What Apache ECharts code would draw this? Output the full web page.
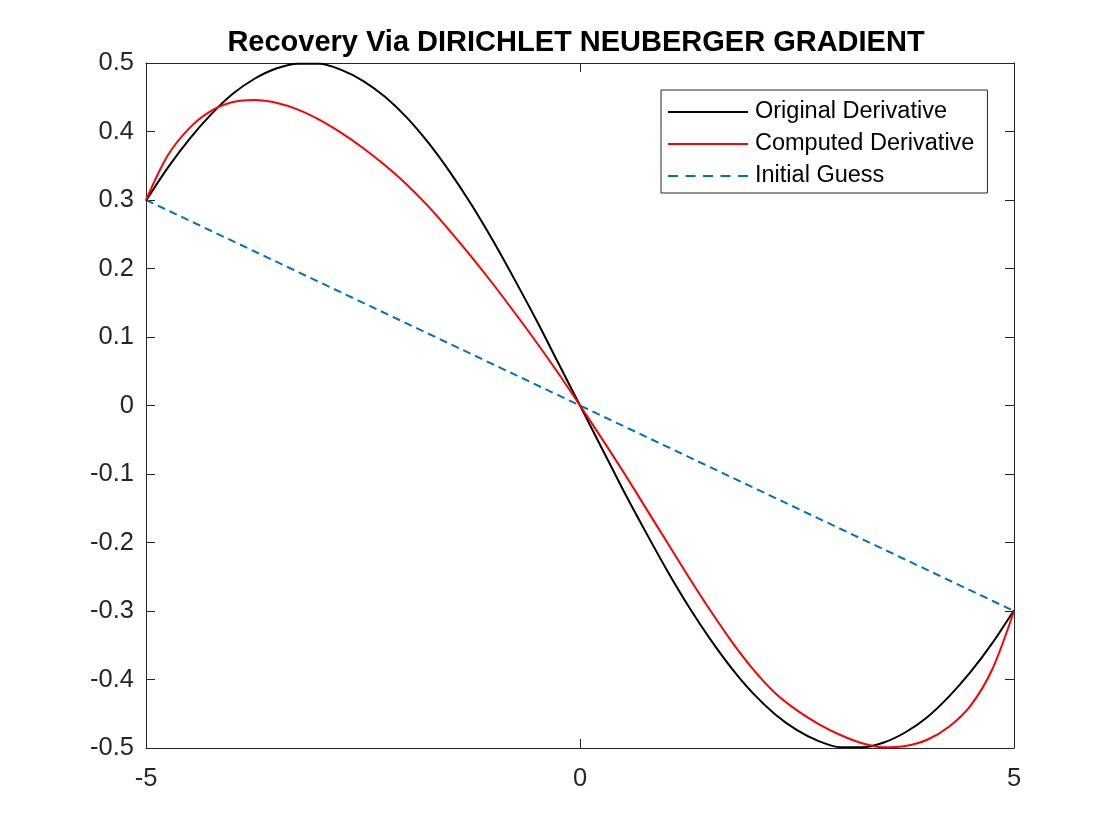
<!DOCTYPE html>
<html>
<head>
<meta charset="utf-8">
<script src="https://cdn.jsdelivr.net/npm/echarts@6/dist/echarts.min.js"></script>
<style>
html,body{margin:0;padding:0;background:#fff;}
#chart{width:1120px;height:840px;}
</style>
</head>
<body>
<div id="chart"></div>
<script>
// x positions (shared by both curves)
const xValues = [-5,-4.75,-4.5,-4.25,-4,-3.75,-3.5,-3.25,-3,-2.75,-2.5,-2.25,-2,-1.75,-1.5,-1.25,-1,-0.75,-0.5,-0.25,
  0,0.25,0.5,0.75,1,1.25,1.5,1.75,2,2.25,2.5,2.75,3,3.25,3.5,3.75,4,4.25,4.5,4.75,5];
const originalDerivative = [0.299,0.347,0.389,0.425,0.455,0.477,0.492,0.499,0.499,0.490,0.474,0.451,0.421,0.384,0.341,0.293,0.240,0.183,0.124,0.062,
  0,-0.062,-0.124,-0.183,-0.240,-0.293,-0.341,-0.384,-0.421,-0.451,-0.474,-0.490,-0.499,-0.499,-0.492,-0.477,-0.455,-0.425,-0.389,-0.347,-0.299];
const computedDerivative = [0.300,0.365,0.405,0.430,0.443,0.446,0.442,0.432,0.417,0.398,0.376,0.351,0.323,0.291,0.255,0.217,0.177,0.135,0.092,0.047,
  0,-0.048,-0.097,-0.148,-0.199,-0.250,-0.299,-0.345,-0.386,-0.420,-0.445,-0.465,-0.481,-0.493,-0.499,-0.497,-0.488,-0.469,-0.438,-0.385,-0.300];
const guessX = [-5, 0, 5];
const initialGuess = [0.3, 0, -0.3];
const seriesNames = ['Original Derivative','Computed Derivative','Initial Guess'];
const titleText = 'Recovery Via DIRICHLET NEUBERGER GRADIENT';

const FONT = '"Liberation Sans", Arial, Helvetica, sans-serif';
const AX = '#262626';
const pair = (xs, ys) => xs.map((x,i)=>[x, ys[i]]);
const yFmt = v => Math.abs(v) < 1e-9 ? '0' : v.toFixed(1);
const xFmt = v => String(Math.round(v));
const DASH_ICON = 'path://M0,0h10v2h-10zM17.5,0h10v2h-10zM35,0h10v2h-10zM52.5,0h10v2h-10zM70,0h10v2h-10z';

const chart = echarts.init(document.getElementById('chart'), null, {renderer:'canvas'});
const axLine = {show:true, onZero:false, lineStyle:{color:AX, width:1}};
const axTick = {show:true, inside:true, length:9, lineStyle:{color:AX, width:1}};
chart.setOption({
  animation:false,
  backgroundColor:'#fff',
  title:{text:titleText, left:571, textAlign:'center', top:23,
    textStyle:{fontFamily:FONT, fontWeight:'bold', fontSize:29, color:'#000'}},
  legend:{
    orient:'vertical', left:661, top:90,
    padding:[10,13,5,7],
    itemGap:8, itemWidth:80, itemHeight:2,
    borderColor:AX, borderWidth:1, backgroundColor:'#fff',
    itemStyle:{borderWidth:0},
    textStyle:{fontFamily:FONT, fontSize:23.5, color:'#000', lineHeight:24, padding:[0,0,0,2]},
    data:[
      {name:seriesNames[0], icon:'rect'},
      {name:seriesNames[1], icon:'rect'},
      {name:seriesNames[2], icon:DASH_ICON}
    ]
  },
  grid:{left:146, right:106, top:63, bottom:92, containLabel:false},
  xAxis:[
    {type:'value', min:-5, max:5, interval:5, position:'bottom',
      axisLine:axLine, axisTick:axTick, splitLine:{show:false},
      axisLabel:{fontFamily:FONT, fontSize:25.5, color:AX, margin:18, formatter:xFmt}},
    {type:'value', min:-5, max:5, interval:5, position:'top',
      axisLine:axLine, axisTick:axTick, splitLine:{show:false}, axisLabel:{show:false}}
  ],
  yAxis:[
    {type:'value', min:-0.5, max:0.5, interval:0.1, position:'left',
      axisLine:axLine, axisTick:axTick, splitLine:{show:false},
      axisLabel:{fontFamily:FONT, fontSize:25.5, color:AX, margin:12, formatter:yFmt}},
    {type:'value', min:-0.5, max:0.5, interval:0.1, position:'right',
      axisLine:axLine, axisTick:axTick, splitLine:{show:false}, axisLabel:{show:false}}
  ],
  series:[
    {name:seriesNames[0], type:'line', data:pair(xValues, originalDerivative), smooth:0.3,
      symbol:'none', lineStyle:{color:'#000000', width:2}, itemStyle:{color:'#000000'}, z:3},
    {name:seriesNames[1], type:'line', data:pair(xValues, computedDerivative), smooth:0.3,
      symbol:'none', lineStyle:{color:'#ff0000', width:2}, itemStyle:{color:'#ff0000'}, z:4},
    {name:seriesNames[2], type:'line', data:pair(guessX, initialGuess),
      symbol:'none', lineStyle:{color:'#0072BD', width:2, type:[8,5]}, itemStyle:{color:'#0072BD'}, z:2}
  ]
});
</script>
</body>
</html>
